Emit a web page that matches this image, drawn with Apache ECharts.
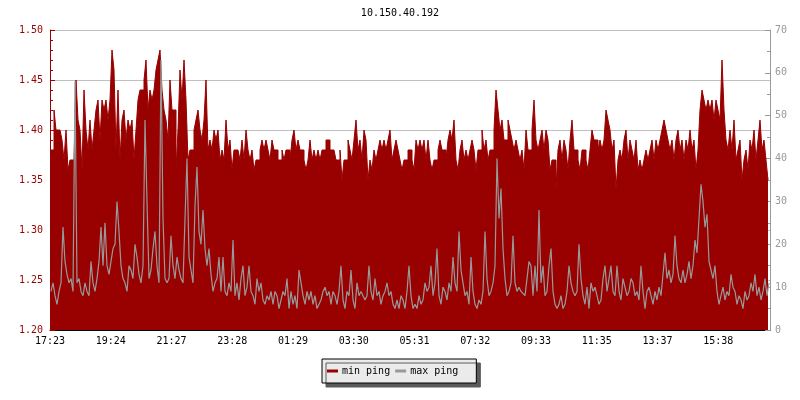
<!DOCTYPE html>
<html><head><meta charset="utf-8">
<script src="https://cdn.jsdelivr.net/npm/echarts@6/dist/echarts.min.js"></script>
<style>html,body{margin:0;padding:0;background:#fff}#c{width:800px;height:400px}</style>
</head><body><div id="c"></div>
<script>
const chartTitle = '10.150.40.192';
const seriesNames = ['min ping', 'max ping'];
const tickLabels = ['17:23','19:24','21:27','23:28','01:29','03:30','05:31','07:32','09:33','11:35','13:37','15:38'];
const stepMinutes = 4;        // one sample every 4 minutes, 24 h in total
const tickStepMinutes = 121.5; // spacing of the time labels
const totalMinutes = 1440;

const minPing = [
1.38,1.38,1.42,1.40,1.40,1.40,1.39,1.37,1.40,1.36,
1.37,1.37,1.37,1.45,1.41,1.40,1.36,1.44,1.40,1.38,
1.41,1.38,1.40,1.42,1.43,1.39,1.43,1.42,1.43,1.41,
1.43,1.48,1.46,1.38,1.44,1.37,1.41,1.42,1.39,1.41,
1.40,1.41,1.37,1.40,1.43,1.44,1.44,1.45,1.47,1.42,
1.44,1.43,1.44,1.46,1.47,1.48,1.44,1.42,1.41,1.39,
1.45,1.42,1.42,1.36,1.40,1.46,1.43,1.47,1.43,1.37,
1.38,1.38,1.40,1.41,1.42,1.40,1.39,1.41,1.45,1.38,
1.39,1.38,1.40,1.39,1.40,1.37,1.38,1.37,1.41,1.38,
1.39,1.36,1.38,1.38,1.38,1.37,1.39,1.37,1.40,1.38,
1.37,1.38,1.36,1.37,1.37,1.38,1.39,1.38,1.39,1.38,
1.37,1.39,1.38,1.38,1.37,1.37,1.38,1.37,1.38,1.38,
1.37,1.39,1.40,1.38,1.39,1.38,1.38,1.37,1.36,1.37,
1.39,1.37,1.38,1.37,1.38,1.37,1.38,1.38,1.39,1.39,
1.38,1.38,1.38,1.37,1.37,1.38,1.35,1.37,1.37,1.39,
1.38,1.37,1.39,1.41,1.38,1.39,1.37,1.40,1.39,1.35,
1.37,1.36,1.38,1.37,1.38,1.39,1.38,1.39,1.38,1.39,
1.40,1.37,1.38,1.39,1.38,1.37,1.36,1.37,1.37,1.38,
1.38,1.37,1.36,1.39,1.38,1.39,1.38,1.39,1.37,1.39,
1.37,1.36,1.37,1.37,1.38,1.39,1.38,1.38,1.37,1.39,
1.40,1.39,1.41,1.37,1.36,1.38,1.39,1.37,1.38,1.37,
1.38,1.39,1.38,1.36,1.38,1.38,1.40,1.38,1.39,1.37,
1.38,1.38,1.40,1.44,1.42,1.40,1.41,1.39,1.39,1.41,
1.40,1.39,1.38,1.39,1.38,1.37,1.38,1.36,1.40,1.38,
1.38,1.40,1.43,1.39,1.38,1.39,1.40,1.38,1.40,1.39,
1.36,1.37,1.37,1.34,1.38,1.39,1.37,1.39,1.38,1.36,
1.39,1.41,1.38,1.38,1.37,1.36,1.38,1.38,1.37,1.36,
1.38,1.40,1.39,1.39,1.38,1.39,1.38,1.39,1.42,1.41,
1.40,1.38,1.39,1.34,1.37,1.38,1.37,1.39,1.40,1.37,
1.39,1.38,1.37,1.39,1.36,1.37,1.36,1.37,1.38,1.37,
1.38,1.39,1.37,1.39,1.38,1.39,1.40,1.41,1.40,1.39,
1.38,1.39,1.37,1.39,1.40,1.38,1.39,1.37,1.39,1.38,
1.40,1.38,1.39,1.36,1.38,1.42,1.44,1.43,1.42,1.43,
1.42,1.43,1.41,1.43,1.42,1.41,1.47,1.42,1.39,1.38,
1.40,1.38,1.41,1.37,1.38,1.39,1.35,1.37,1.38,1.36,
1.39,1.38,1.40,1.37,1.39,1.41,1.38,1.39,1.37,1.35
];

const maxPing = [
9,11,8,6,9,11,24,16,13,11,
12,9,58,11,12,9,8,11,9,8,
16,11,9,12,16,24,15,25,15,13,
16,19,20,30,23,15,12,11,9,15,
14,12,20,17,13,11,15,49,30,12,
14,19,23,15,11,63,26,12,11,12,
22,15,12,17,14,12,11,26,40,17,
14,11,29,38,23,20,28,19,15,19,
13,9,11,12,17,9,17,9,8,11,
9,21,8,11,7,12,15,8,10,15,
9,8,6,12,9,11,7,6,8,7,
9,6,9,8,5,7,9,8,12,5,
9,6,8,5,14,11,8,6,9,7,
9,6,8,5,6,7,9,10,8,9,
6,9,8,6,9,15,7,5,9,8,
14,7,5,11,8,9,9,7,8,15,
9,7,12,8,9,6,8,9,11,8,
9,6,5,7,5,8,7,5,9,15,
8,5,6,5,8,6,7,11,9,10,
15,8,11,19,8,6,10,9,7,11,
9,17,11,9,23,14,11,8,9,6,
17,9,6,5,7,6,9,23,12,8,
9,11,15,40,26,33,19,12,8,9,
11,22,11,9,10,9,9,8,12,16,
15,8,15,9,28,11,15,8,9,15,
19,9,6,5,6,8,5,6,9,15,
11,9,8,9,20,12,8,6,10,5,
11,9,10,8,6,7,12,15,9,12,
15,9,8,15,9,7,12,10,8,9,
12,11,8,9,7,15,9,5,9,10,
8,6,9,7,10,8,13,18,12,14,
11,13,22,15,12,11,14,11,13,16,
12,15,21,18,26,34,30,24,27,16,
14,12,15,9,6,8,10,7,9,8,
13,10,9,6,8,7,5,9,7,8,
11,9,13,8,10,7,9,12,8,11
];

const RED = '#990000', GRAY = '#999999';
const FONT = 'DejaVu Sans Mono';

const chart = echarts.init(document.getElementById('c'), null, {renderer: 'canvas'});
chart.setOption({
  animation: false,
  backgroundColor: '#ffffff',
  title: {
    text: chartTitle, left: 'center', top: 8, padding: 0,
    textStyle: {fontFamily: FONT, fontSize: 10, fontWeight: 'normal', color: '#000'}
  },
  legend: {
    data: seriesNames.map((n, i) => ({name: n, itemStyle: {color: i === 0 ? RED : GRAY}})),
    left: 322, top: 359,
    icon: 'rect', itemWidth: 11, itemHeight: 3, itemGap: 5,
    padding: [7, 18, 7, 5],
    backgroundColor: '#ebebeb', borderColor: '#000', borderWidth: 1, borderRadius: 0,
    shadowColor: '#5a5a5a', shadowBlur: 0, shadowOffsetX: 4, shadowOffsetY: 4,
    selectedMode: false,
    textStyle: {fontFamily: FONT, fontSize: 10, color: '#000', padding: [0, 0, 0, -1]}
  },
  grid: {left: 50, right: 30, top: 30, bottom: 70, containLabel: false, outerBoundsMode: 'none'},
  xAxis: {
    type: 'value', min: 0, max: totalMinutes, interval: tickStepMinutes,
    axisLine: {show: true, lineStyle: {color: '#000', width: 1}},
    axisTick: {show: true, inside: true, length: 5, lineStyle: {color: '#000'}},
    splitLine: {show: false},
    axisLabel: {
      fontFamily: FONT, fontSize: 10, color: '#000', margin: 6,
      showMaxLabel: false, hideOverlap: false,
      formatter: v => {
        const k = Math.round(v / tickStepMinutes);
        return (Math.abs(k * tickStepMinutes - v) < 0.01 && tickLabels[k]) ? tickLabels[k] : '';
      }
    }
  },
  yAxis: [{
    type: 'value', min: 1.2, max: 1.5, interval: 0.05, position: 'left',
    axisLine: {show: true, lineStyle: {color: RED, width: 1}},
    axisTick: {show: true, inside: true, length: 5, lineStyle: {color: RED}},
    minorTick: {show: true, splitNumber: 5, length: 3, lineStyle: {color: RED}},
    splitLine: {show: true, lineStyle: {color: '#c0c0c0', width: 1}},
    axisLabel: {fontFamily: FONT, fontSize: 10, color: RED, margin: 7, formatter: v => v.toFixed(2)}
  }, {
    type: 'value', min: 0, max: 70, interval: 10, position: 'right',
    axisLine: {show: true, lineStyle: {color: GRAY, width: 1}},
    axisTick: {show: true, inside: true, length: 5, lineStyle: {color: GRAY}},
    minorTick: {show: true, splitNumber: 2, length: 3, lineStyle: {color: GRAY}},
    splitLine: {show: false},
    axisLabel: {fontFamily: FONT, fontSize: 10, color: GRAY, margin: 5}
  }],
  series: [{
    name: seriesNames[0], type: 'line', yAxisIndex: 0, step: 'end',
    data: minPing.map((v, i) => [i * stepMinutes, v]),
    showSymbol: false, symbol: 'none',
    lineStyle: {color: RED, width: 1},
    itemStyle: {color: RED},
    areaStyle: {color: RED, opacity: 1, origin: 'start'},
    silent: true
  }, {
    name: seriesNames[1], type: 'line', yAxisIndex: 1,
    data: maxPing.map((v, i) => [i * stepMinutes + stepMinutes / 2, v]),
    showSymbol: false, symbol: 'none',
    lineStyle: {color: GRAY, width: 1.2},
    itemStyle: {color: GRAY},
    silent: true
  }]
});
</script></body></html>
